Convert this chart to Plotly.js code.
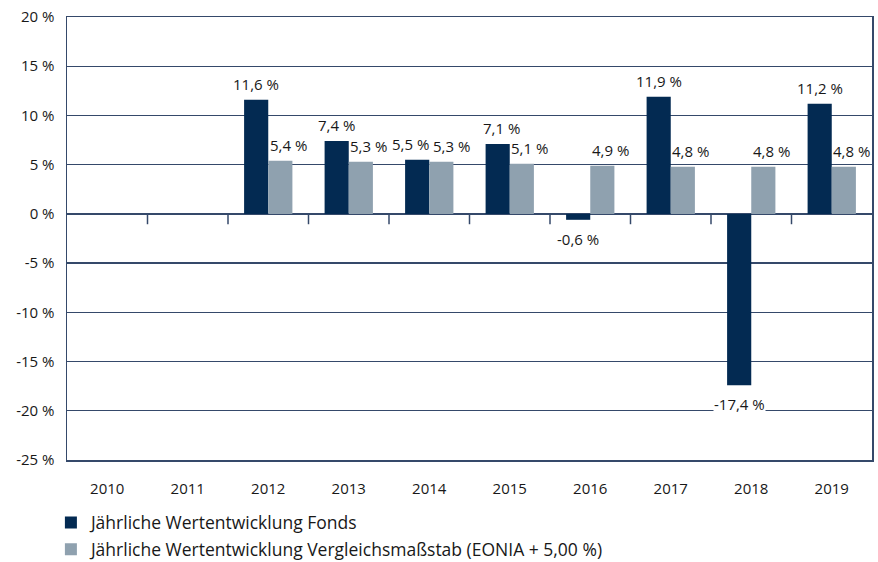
<!DOCTYPE html>
<html>
<head>
<meta charset="utf-8">
<script src="https://cdn.plot.ly/plotly-3.0.1.min.js"></script>
<style>html,body{margin:0;padding:0;background:#fff;}#chart{width:878px;height:562px;}</style>
</head>
<body>
<div id="chart"></div>
<script>
var years = ['2010','2011','2012','2013','2014','2015','2016','2017','2018','2019'];
var fondsValues = [null, null, 11.6, 7.4, 5.5, 7.1, -0.6, 11.9, -17.4, 11.2];
var benchValues = [null, null, 5.4, 5.3, 5.3, 5.1, 4.9, 4.8, 4.8, 4.8];
var yTickVals = [20, 15, 10, 5, 0, -5, -10, -15, -20, -25];
var fondsName = 'Jährliche Wertentwicklung Fonds';
var benchName = 'Jährliche Wertentwicklung Vergleichsmaßstab (EONIA + 5,00 %)';

var FONT = 'Open Sans, Lato, sans-serif';
var TXT = '#181818';
var GRID = '#35496a';
var DARK = '#032a52';
var GREY = '#8fa1af';

var idx = years.map(function(_, i){ return i; });
function fmt(v){ return v.toFixed(1).replace('.', ',') + ' %'; }

var traces = [
  {type:'bar', x:idx, y:fondsValues, name:fondsName, legendgroup:'a', marker:{color:DARK}, hoverinfo:'skip'},
  {type:'bar', x:idx, y:benchValues, name:benchName, legendgroup:'b', marker:{color:GREY}, hoverinfo:'skip'}
];

var annotations = [];
function addLabels(vals, shift, nudge){
  vals.forEach(function(v, i){
    if (v === null) return;
    annotations.push({
      x: idx[i], y: v, xref:'x', yref:'y',
      text: fmt(v), showarrow:false,
      xshift: shift + (nudge[i] || 0), yshift: v >= 0 ? 5 : -8,
      yanchor: v >= 0 ? 'bottom' : 'top',
      bgcolor: v >= 0 ? 'rgba(0,0,0,0)' : 'white', borderpad: 0,
      font:{family:FONT, size:15, color:TXT}
    });
  });
}
addLabels(fondsValues, -12, [0,0,0,0,-7,4,0,0,0,0]);
addLabels(benchValues, 20, [0,0,0,0,2,0,0,0,0,0]);

var shapes = [];
for (var i = 0; i < years.length - 1; i++) {
  shapes.push({type:'line', xref:'x', yref:'y', x0:i+0.5, x1:i+0.5, y0:0, y1:-1.05,
    line:{color:GRID, width:1.5}});
}

var layout = {
  width:878, height:562,
  margin:{l:67, r:6, t:17, b:102, autoexpand:false},
  paper_bgcolor:'#ffffff', plot_bgcolor:'#ffffff',
  font:{family:FONT, size:15, color:TXT},
  barmode:'group', bargap:0.4, bargroupgap:0,
  showlegend:true,
  legend:{orientation:'v', x:-0.02, y:-0.101, xanchor:'left', yanchor:'top',
    traceorder:'grouped', tracegroupgap:1,
    font:{family:FONT, size:17.5, color:TXT}, itemwidth:30},
  xaxis:{range:[-0.5, years.length - 0.5], tickvals:idx, ticktext:years,
    showgrid:false, zeroline:false, showline:true, mirror:true,
    linecolor:GRID, linewidth:1.5, ticks:'outside', ticklen:14, tickcolor:'rgba(0,0,0,0)',
    tickfont:{family:FONT, size:15, color:TXT}, fixedrange:true},
  yaxis:{range:[-25,20], tickvals:yTickVals, ticktext:yTickVals.map(function(v){return v + ' %';}),
    showgrid:true, gridcolor:GRID, gridwidth:1.3, zeroline:true, zerolinecolor:GRID, zerolinewidth:1.5,
    showline:true, mirror:true, linecolor:GRID, linewidth:1.5, ticks:'', ticklabelstandoff:8,
    tickfont:{family:FONT, size:15, color:TXT}, fixedrange:true},
  annotations:annotations,
  shapes:shapes
};

Plotly.newPlot('chart', traces, layout, {displayModeBar:false, staticPlot:true});
</script>
</body>
</html>
